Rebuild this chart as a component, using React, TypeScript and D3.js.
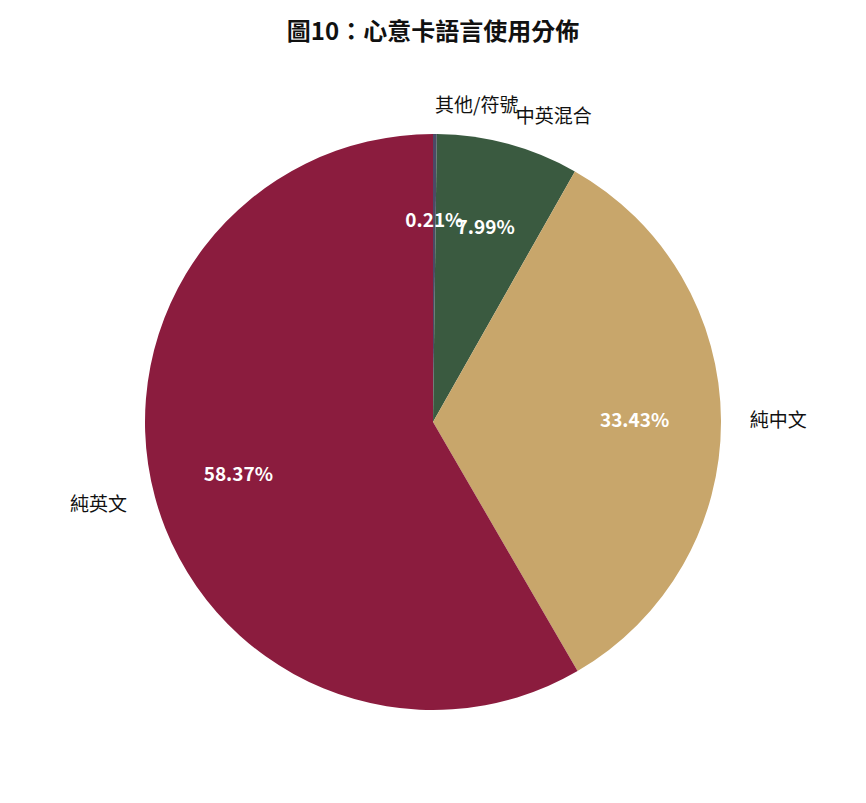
import React from "react";
import * as d3 from "d3";

const labels = ["其他/符號", "中英混合", "純中文", "純英文"];
const values = [0.21, 7.99, 33.43, 58.37];
const colors = ["#4b4a66", "#3a5a40", "#c8a66b", "#8b1c3e"];
const title = "圖10：心意卡語言使用分佈";

export default function App() {
  const W = 866, H = 803;
  const cx = 433, cy = 422, r = 288;
  const font = "'Noto Sans CJK TC', 'Noto Sans', sans-serif";
  const pie = d3.pie<number>().sort(null).startAngle(0).endAngle(2 * Math.PI);
  const arcs = pie(values);
  const arc = d3.arc<d3.PieArcDatum<number>>().innerRadius(0).outerRadius(r);
  return (
    <svg width={W} height={H} style={{ position: "absolute", left: 0, top: 0 }}>
      <rect width={W} height={H} fill="#fff" />
      <text x={cx} y={29} textAnchor="middle" dominantBaseline="central" fontFamily={font} fontWeight="bold" fontSize={24} fill="#111">{title}</text>
      <g transform={`translate(${cx},${cy})`}>
        {arcs.map((a, i) => (
          <path key={i} d={arc(a) || ""} fill={colors[i]} />
        ))}
        {arcs.map((a, i) => {
          const m = (a.startAngle + a.endAngle) / 2;
          const lx = 1.1 * r * Math.sin(m);
          const ly = -1.1 * r * Math.cos(m);
          const px = 0.7 * r * Math.sin(m);
          const py = -0.7 * r * Math.cos(m);
          return (
            <g key={"t" + i}>
              <text x={lx} y={ly - 2} textAnchor={lx >= 0 ? "start" : "end"} dominantBaseline="central" fontFamily={font} fontSize={19} fill="#111">{labels[i]}</text>
              <text x={px} y={py - 2} textAnchor="middle" dominantBaseline="central" fontFamily={font} fontWeight="bold" fontSize={19} fill="#fff">{values[i].toFixed(2)}%</text>
            </g>
          );
        })}
      </g>
    </svg>
  );
}
